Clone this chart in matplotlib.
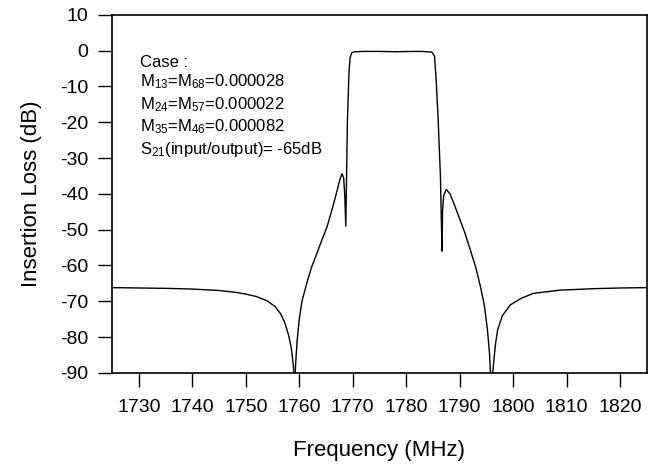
import numpy as np
import matplotlib
matplotlib.use("Agg")
import matplotlib.pyplot as plt

plt.rcParams['font.family'] = ['Liberation Sans', 'DejaVu Sans']
plt.rcParams['mathtext.fontset'] = 'custom'
plt.rcParams['mathtext.rm'] = 'Liberation Sans'
plt.rcParams['mathtext.it'] = 'Liberation Sans:italic'
plt.rcParams['axes.unicode_minus'] = False

# filter response (MHz, dB)
freq = [1725, 1730, 1735, 1740, 1745, 1748, 1750, 1752, 1754, 1755.5,
        1756.5, 1757.3, 1758, 1758.5, 1758.9, 1759.1, 1759.3, 1759.6, 1760, 1760.5,
        1761.4, 1762.3, 1763.3, 1764.2, 1765.2, 1766.2, 1767.0, 1767.6, 1768.0, 1768.3,
        1768.5, 1768.7, 1768.8, 1769.0, 1769.3, 1769.5, 1769.8, 1770.3, 1772, 1775,
        1778, 1781, 1783, 1784.8, 1785.3, 1785.6, 1786.0, 1786.4, 1786.7, 1786.8,
        1787.0, 1787.5, 1788.2, 1789, 1790.1, 1791, 1792, 1793, 1793.9, 1794.6,
        1795.2, 1795.6, 1795.9, 1796.3, 1796.7, 1797.1, 1798, 1799.5, 1801.5, 1803.8,
        1808.8, 1815, 1820, 1825]
loss = [-66.2, -66.3, -66.4, -66.6, -67.0, -67.5, -68.0, -68.7, -69.9, -71.5,
        -73.5, -76.0, -79.5, -83.0, -88.0, -95.0, -88.0, -81.0, -75.0, -70.0,
        -65.0, -60.5, -56.6, -53.0, -49.2, -44.0, -39.5, -36.0, -34.4, -35.5,
        -40.0, -49.0, -40.0, -20.0, -6.0, -2.0, -0.6, -0.3, -0.2, -0.2,
        -0.3, -0.2, -0.2, -0.4, -1.5, -8.0, -20.0, -35.0, -56.0, -45.0,
        -40.5, -38.8, -40.0, -43.0, -47.4, -51.0, -55.7, -60.5, -66.0, -71.0,
        -78.0, -85.0, -95.0, -88.0, -82.0, -78.0, -74.0, -71.0, -69.2, -67.8,
        -66.9, -66.5, -66.3, -66.2]

case_lines = ["Case :",
              "M$_{13}$=M$_{68}$=0.000028",
              "M$_{24}$=M$_{57}$=0.000022",
              "M$_{35}$=M$_{46}$=0.000082",
              "S$_{21}$(input/output)= -65dB"]

fig = plt.figure(figsize=(6.52, 4.66), dpi=100)
ax = fig.add_axes([0.172, 0.2, 0.82, 0.768])

ax.plot(freq, loss, color='black', lw=1.0)

ax.set_xlim(1725, 1825)
ax.set_ylim(-90, 10)
ax.set_xticks(np.arange(1730, 1821, 10))
ax.set_yticks(np.arange(-90, 11, 10))
ax.tick_params(axis='both', direction='out', length=10, width=1, labelsize=14)
ax.tick_params(axis='x', pad=9)
ax.tick_params(axis='y', pad=7)
for s in ax.spines.values():
    s.set_linewidth(1.2)

ax.set_xlabel("Frequency (MHz)", fontsize=16, labelpad=17)
ax.set_ylabel("Insertion Loss (dB)", fontsize=16, labelpad=13)

ys = [0.855, 0.800, 0.737, 0.674, 0.612]
for txt, y in zip(case_lines, ys):
    ax.text(0.052, y, txt, transform=ax.transAxes, fontsize=12, va='baseline')

fig.savefig("out.png", dpi=100)
